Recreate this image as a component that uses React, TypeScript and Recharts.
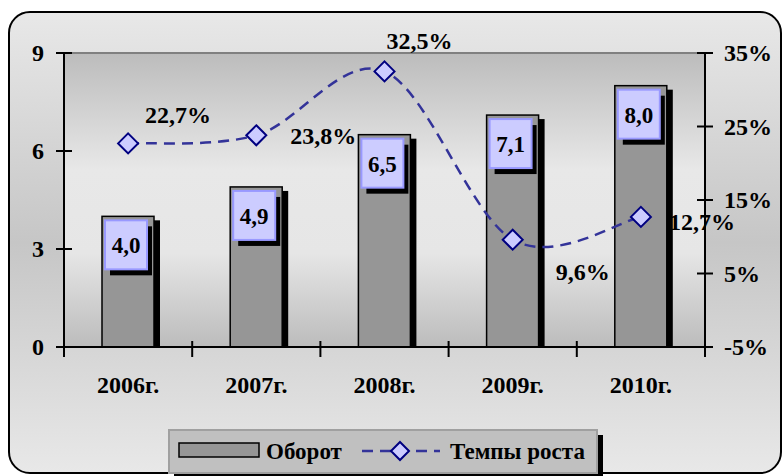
import { Bar, ComposedChart, LabelList, Line, ReferenceLine, XAxis, YAxis, CartesianGrid } from "recharts";

const years = ["2006г.", "2007г.", "2008г.", "2009г.", "2010г."];
const turnover = [4.0, 4.9, 6.5, 7.1, 8.0];
const growth = [22.7, 23.8, 32.5, 9.6, 12.7];
const leftTicks = [0, 3, 6, 9];
const rightTicks = [-5, 5, 15, 25, 35];
const seriesNames = ["Оборот", "Темпы роста"];

const data = years.map((year, i) => ({ year, turnover: turnover[i], growth: growth[i] }));

// label placement for the growth values (dx, dy from the point)
const growthLabelOffsets = [
  [50, -28],
  [67, 1],
  [35, -30],
  [70, 32],
  [61, 5],
];

const FONT = "'Liberation Serif', 'Times New Roman', serif";
const W = 784;
const H = 476;
const PLOT_L = 64;
const PLOT_R = 705;
const PLOT_T = 53;
const PLOT_B = 347;
const HALF_BAND = (PLOT_R - PLOT_L) / years.length / 2;

const comma = (v: number) => v.toFixed(1).replace(".", ",");

// Excel-like smoothing (Catmull-Rom as cubic bezier)
const smoothCurve = (ctx: any) => {
  let pts: number[][] = [];
  return {
    areaStart() {},
    areaEnd() {},
    lineStart() {
      pts = [];
    },
    point(x: number, y: number) {
      pts.push([+x, +y]);
    },
    lineEnd() {
      if (!pts.length) return;
      ctx.moveTo(pts[0][0], pts[0][1]);
      for (let i = 0; i < pts.length - 1; i++) {
        const p0 = pts[Math.max(i - 1, 0)];
        const p1 = pts[i];
        const p2 = pts[i + 1];
        const p3 = pts[Math.min(i + 2, pts.length - 1)];
        ctx.bezierCurveTo(
          p1[0] + (p2[0] - p0[0]) / 6,
          p1[1] + (p2[1] - p0[1]) / 6,
          p2[0] - (p3[0] - p1[0]) / 6,
          p2[1] - (p3[1] - p1[1]) / 6,
          p2[0],
          p2[1]
        );
      }
    },
  };
};

const textStyle = { fontFamily: FONT, fontWeight: 700, fontSize: 24, fill: "#000" };

const LeftTick = (p: any) => (
  <g>
    <line x1={p.x - 8} x2={p.x + 8} y1={p.y} y2={p.y} stroke="#000" strokeWidth={2} />
    <text x={p.x - 20} y={p.y} textAnchor="end" dominantBaseline="central" style={textStyle}>
      {p.payload.value}
    </text>
  </g>
);

const RightTick = (p: any) => (
  <g>
    <line x1={p.x - 8} x2={p.x + 8} y1={p.y} y2={p.y} stroke="#000" strokeWidth={2} />
    <text x={p.x + 19} y={p.y} textAnchor="start" dominantBaseline="central" style={textStyle}>
      {p.payload.value}%
    </text>
  </g>
);

const XTick = (p: any) => (
  <g>
    <line x1={p.x - HALF_BAND} x2={p.x - HALF_BAND} y1={p.y - 6} y2={p.y + 10} stroke="#000" strokeWidth={2} />
    {p.index === years.length - 1 && (
      <line x1={p.x + HALF_BAND} x2={p.x + HALF_BAND} y1={p.y - 6} y2={p.y + 10} stroke="#000" strokeWidth={2} />
    )}
    <text x={p.x} y={p.y + 38} textAnchor="middle" dominantBaseline="central" style={textStyle}>
      {p.payload.value}
    </text>
  </g>
);

const BarShape = (p: any) => {
  const { x, y, width, height } = p;
  return (
    <g>
      <rect x={x + 6} y={y + 4} width={width} height={Math.max(height - 4, 0)} fill="#000" />
      <rect x={x} y={y} width={width} height={height} fill="#969696" stroke="#000" strokeWidth={1.5} />
    </g>
  );
};

const BarValueLabel = (p: any) => {
  const bx = p.x + 3;
  const by = p.y + 4;
  const w = 42;
  const h = 49;
  return (
    <g>
      <rect x={bx + 5} y={by + 6} width={w} height={h} fill="#000" />
      <rect x={bx} y={by} width={w} height={h} fill="#ccccff" stroke="#9999ff" strokeWidth={2} />
      <text
        x={bx + w / 2}
        y={by + h / 2 + 1}
        textAnchor="middle"
        dominantBaseline="central"
        style={{ ...textStyle, fontSize: 23 }}
      >
        {comma(p.value)}
      </text>
    </g>
  );
};

const GrowthLabel = (p: any) => {
  const [dx, dy] = growthLabelOffsets[p.index] || [0, -20];
  return (
    <text x={p.x + dx} y={p.y + dy} textAnchor="middle" dominantBaseline="central" style={textStyle}>
      {comma(p.value)}%
    </text>
  );
};

const Diamond = ({ cx, cy, size = 10 }: any) => (
  <path
    d={`M${cx},${cy - size}L${cx + size},${cy}L${cx},${cy + size}L${cx - size},${cy}Z`}
    fill="#ccccff"
    stroke="#000080"
    strokeWidth={2}
    strokeDasharray="none"
  />
);

const LegendBox = () => (
  <svg width={440} height={50} style={{ position: "absolute", left: 168, top: 429 }}>
    <rect x={6} y={6} width={429} height={44} fill="#000" />
    <rect x={1} y={1} width={428} height={43} fill="#c0c0c0" stroke="#a0a0a0" strokeWidth={2} />
    <rect x={11} y={14} width={80} height={14} fill="#969696" stroke="#000" strokeWidth={1.5} />
    <text x={98} y={22} dominantBaseline="central" style={{ ...textStyle, fontSize: 23 }}>
      {seriesNames[0]}
    </text>
    <line x1={190} x2={272} y1={22} y2={22} stroke="#333399" strokeWidth={2.5} strokeDasharray="11 7" strokeDashoffset={-4} />
    <Diamond cx={232} cy={22} size={9} />
    <text x={282} y={22} dominantBaseline="central" style={{ ...textStyle, fontSize: 23 }}>
      {seriesNames[1]}
    </text>
  </svg>
);

export default function App() {
  return (
    <div style={{ position: "absolute", left: 0, top: 0, width: W, height: H, overflow: "hidden" }}>
      <div
        style={{
          position: "absolute",
          left: 8,
          top: 11,
          width: 774,
          height: 463,
          boxSizing: "border-box",
          border: "2px solid #000",
          borderRadius: 22,
          background: "linear-gradient(#e8e8e8 0%, #c6c6c6 50%, #e8e8e8 100%)",
        }}
      />
      <div style={{ position: "absolute", left: 0, top: 0 }}>
        <ComposedChart width={W} height={H} data={data} margin={{ top: PLOT_T, right: 0, bottom: 0, left: 0 }}>
          <defs>
            <linearGradient id="plotBg" x1="0" y1="0" x2="0" y2="1">
              <stop offset="0%" stopColor="#bcbcbc" />
              <stop offset="40%" stopColor="#e8e8e8" />
              <stop offset="68%" stopColor="#e6e6e6" />
              <stop offset="100%" stopColor="#bcbcbc" />
            </linearGradient>
          </defs>
          <CartesianGrid horizontal={false} vertical={false} fill="url(#plotBg)" stroke="none" />
          <XAxis
            dataKey="year"
            height={H - PLOT_B}
            axisLine={{ stroke: "#000", strokeWidth: 2 }}
            tickLine={false}
            tickSize={0}
            tickMargin={0}
            tick={<XTick />}
            interval={0}
          />
          <YAxis
            yAxisId="left"
            width={PLOT_L}
            domain={[0, 9]}
            ticks={leftTicks}
            axisLine={{ stroke: "#000", strokeWidth: 2 }}
            tickLine={false}
            tickSize={0}
            tickMargin={0}
            tick={<LeftTick />}
          />
          <YAxis
            yAxisId="right"
            orientation="right"
            width={W - PLOT_R}
            domain={[-5, 35]}
            ticks={rightTicks}
            axisLine={{ stroke: "#000", strokeWidth: 2 }}
            tickLine={false}
            tickSize={0}
            tickMargin={0}
            tick={<RightTick />}
          />
          <ReferenceLine yAxisId="left" y={9} stroke="#808080" strokeWidth={2} />
          <Bar
            yAxisId="left"
            dataKey="turnover"
            name={seriesNames[0]}
            barSize={52}
            shape={<BarShape />}
            isAnimationActive={false}
          >
            <LabelList dataKey="turnover" content={<BarValueLabel />} />
          </Bar>
          <Line
            yAxisId="right"
            dataKey="growth"
            name={seriesNames[1]}
            type={smoothCurve as any}
            stroke="#333399"
            strokeWidth={2.5}
            strokeDasharray="11 7"
            dot={<Diamond size={10} />}
            activeDot={false}
            isAnimationActive={false}
          >
            <LabelList dataKey="growth" content={<GrowthLabel />} />
          </Line>
        </ComposedChart>
      </div>
      <LegendBox />
    </div>
  );
}
